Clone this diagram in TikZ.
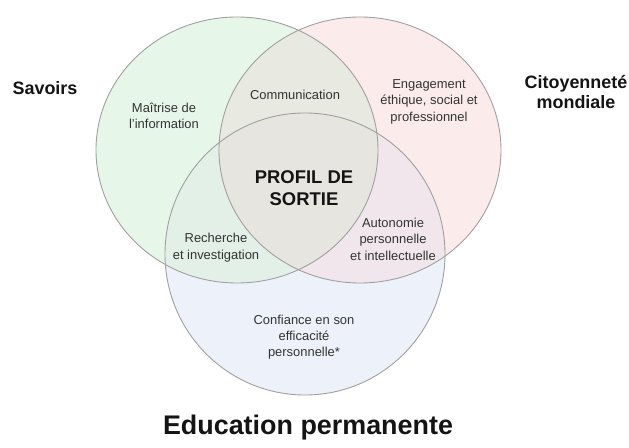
\documentclass[tikz,border=0pt]{standalone}
\usepackage{fontspec}
\setmainfont{Liberation Sans}
\definecolor{cG}{HTML}{E6F7E9}
\definecolor{cR}{HTML}{FBEBEB}
\definecolor{cB}{HTML}{EDF2FA}
\definecolor{cGR}{HTML}{E8E9E0}
\definecolor{cGB}{HTML}{E2F0E8}
\definecolor{cRB}{HTML}{F1E6EB}
\definecolor{cGRB}{HTML}{E6E5E0}
\definecolor{ringgray}{HTML}{A0A0A0}
\definecolor{labelgray}{HTML}{333333}
\begin{document}
\begin{tikzpicture}[x=1bp,y=-1bp,
  lbl/.style={font=\fontsize{13}{16.5}\selectfont, text=labelgray, align=center, inner sep=0pt},
  big/.style={font=\fontsize{18}{21}\selectfont\bfseries, text=black!92, align=center, inner sep=0pt},
  ring/.style={draw=ringgray, line width=0.9bp}]
\useasboundingbox[fill=white] (0,0) rectangle (629,448);
\def\G{(237,150) ellipse [x radius=141, y radius=133]}
\def\R{(360,150) ellipse [x radius=141, y radius=133]}
\def\B{(305,254) ellipse [x radius=140, y radius=141]}
% fills
\fill[cG] \G;
\fill[cR] \R;
\fill[cB] \B;
\begin{scope}
  \clip \G;
  \fill[cGR] \R;
  \fill[cGB] \B;
\end{scope}
\begin{scope}
  \clip \R;
  \fill[cRB] \B;
\end{scope}
\begin{scope}
  \clip \G;
  \clip \R;
  \fill[cGRB] \B;
\end{scope}
% outlines
\draw[ring] \G;
\draw[ring] \R;
\draw[ring] \B;
% labels
\node[big] (sav) at (45,88) {Savoirs};
\node[big] (cit) at (576,92) {Citoyenneté\\mondiale};
\node[big, font=\fontsize{27}{30}\selectfont\bfseries] (edu) at (308,428) {Education permanente};
\node[lbl] (mai) at (164,116) {Maîtrise de\\l’information};
\node[lbl] (com) at (295,95) {Communication};
\node[lbl] (eng) at (429,101.5) {Engagement\\éthique, social et\\professionnel};
\node[big, font=\fontsize{18.5}{21.5}\selectfont\bfseries] (pro) at (304,188) {PROFIL DE\\SORTIE};
\node[lbl, font=\fontsize{13}{17}\selectfont] (rec) at (216,247.5) {Recherche\\et investigation};
\node[lbl] (aut) at (393,239) {Autonomie\\personnelle\\et intellectuelle};
\node[lbl, font=\fontsize{13}{16}\selectfont] (con) at (304,337) {Confiance en son\\efficacité\\personnelle*};
\end{tikzpicture}
\end{document}
